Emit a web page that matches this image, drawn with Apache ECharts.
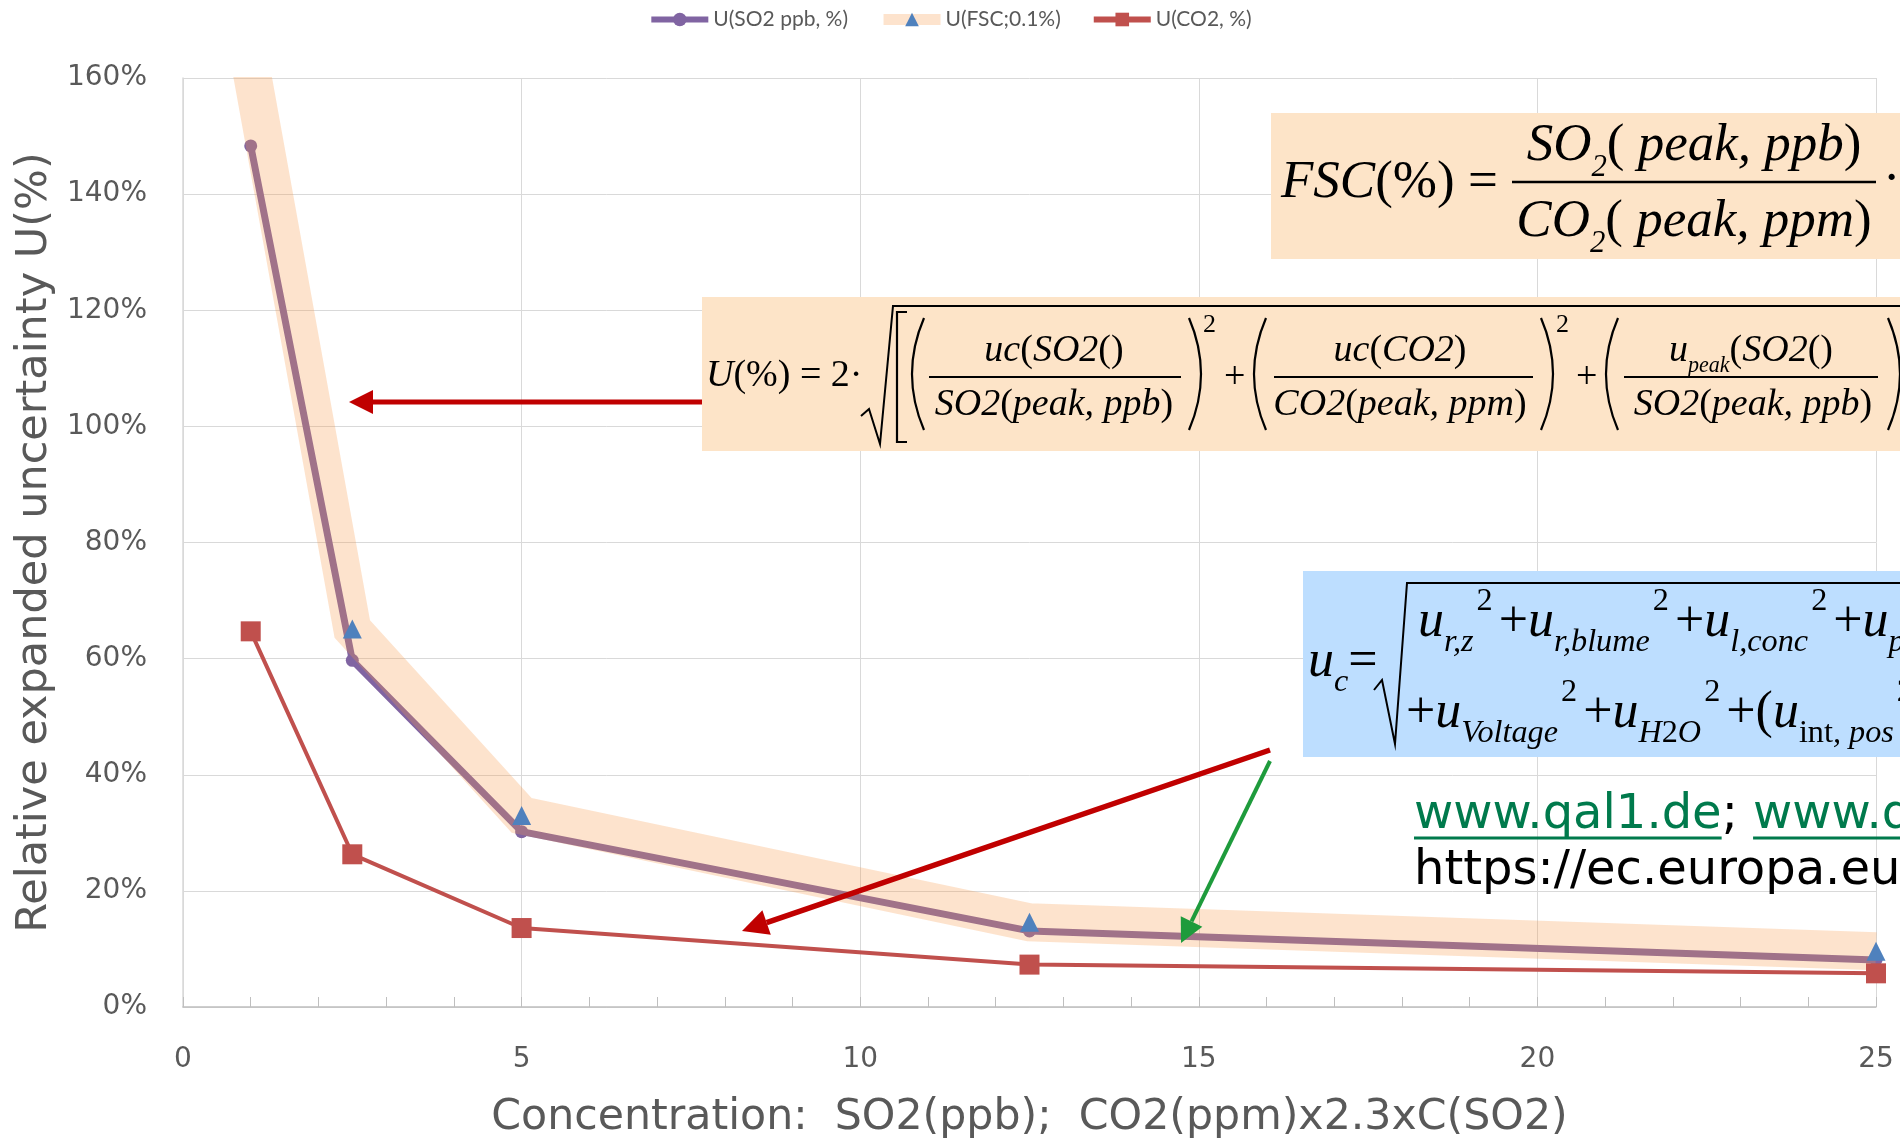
<!DOCTYPE html>
<html>
<head>
<meta charset="utf-8">
<script src="https://cdn.jsdelivr.net/npm/echarts@6/dist/echarts.min.js"></script>
<style>
  html, body { margin: 0; padding: 0; background: #fff; }
  #chart { width: 1900px; height: 1138px; }
</style>
</head>
<body>
<div id="chart"></div>
<script>
// values (percent)
const concentration = [1, 2.5, 5, 12.5, 25];
const uSO2 = [148.3, 59.7, 30.2, 13.1, 8.1];
const uFSC = [162, 65.1, 33.0, 14.6, 9.6];
const uCO2 = [64.7, 26.3, 13.6, 7.3, 5.8];
const seriesNames = ['U(SO2 ppb, %)', 'U(FSC;0.1%)', 'U(CO2, %)'];

const sans = '"DejaVu Sans", Verdana, sans-serif';
const serif = '"Liberation Serif", "Times New Roman", serif';
const peach = '#FDE4C8';
const skyBlue = '#BDDEFF';

function pairs(ys) {
  return concentration.map((x, i) => [x, ys[i]]);
}

function measure(text, font) {
  const ctx = document.createElement('canvas').getContext('2d');
  ctx.font = font;
  return ctx.measureText(text).width;
}

// formula text with italic / upright / sub / sup parts
function mtext(x, y, text, size, align, subScale, supPad) {
  const lh = size * 1.4;
  const s = size * (subScale || 0.58);
  return {
    type: 'text', z: 110, x: x, y: y,
    style: {
      text: text, align: align || 'left', verticalAlign: 'middle',
      fontFamily: serif, fontSize: size, fill: '#000',
      rich: {
        i: { fontFamily: serif, fontStyle: 'italic', fontSize: size, lineHeight: lh },
        r: { fontFamily: serif, fontSize: size, lineHeight: lh },
        sub: { fontFamily: serif, fontStyle: 'italic', fontSize: s, verticalAlign: 'bottom' },
        subr: { fontFamily: serif, fontSize: s, verticalAlign: 'bottom' },
        sup: { fontFamily: serif, fontSize: s, verticalAlign: 'top', padding: supPad || [0, 4, 0, 8] }
      }
    }
  };
}

function seg(x1, y1, x2, y2, w, color) {
  return { type: 'line', z: 110, shape: { x1, y1, x2, y2 }, style: { stroke: color || '#000', lineWidth: w || 2 } };
}

function poly(points, w) {
  return { type: 'polyline', z: 110, shape: { points }, style: { stroke: '#000', lineWidth: w || 2, fill: null } };
}

function paren(x, top, bottom, bulge) {
  return {
    type: 'bezierCurve', z: 110,
    shape: { x1: x, y1: top, x2: x, y2: bottom, cpx1: x + bulge, cpy1: (top + bottom) / 2 },
    style: { stroke: '#000', lineWidth: 2.2, fill: null }
  };
}

function arrow(x1, y1, x2, y2, color, w, head) {
  const a = Math.atan2(y2 - y1, x2 - x1);
  const bx = x2 - head * Math.cos(a), by = y2 - head * Math.sin(a);
  const nx = -Math.sin(a) * head * 0.5, ny = Math.cos(a) * head * 0.5;
  return [
    { type: 'line', z: 120, shape: { x1, y1, x2: bx, y2: by }, style: { stroke: color, lineWidth: w } },
    { type: 'polygon', z: 120, shape: { points: [[x2, y2], [bx + nx, by + ny], [bx - nx, by - ny]] }, style: { fill: color } }
  ];
}

const graphics = [];

// hide the part of the wide FSC band that the clip lets through above the plot
graphics.push({ type: 'rect', z: 50, shape: { x: 183, y: 38, width: 200, height: 39 }, style: { fill: '#fff' } });

// FSC box
graphics.push({ type: 'rect', z: 100, shape: { x: 1271, y: 113, width: 629, height: 146 }, style: { fill: peach } });
graphics.push(mtext(1281, 183, '{i|FSC}{r|(%) =}', 53));
graphics.push(mtext(1694, 146, '{i|SO}{sub|2}{r|( }{i|peak, ppb}{r|)}', 53, 'center'));
graphics.push(seg(1512, 182, 1876, 182, 2.5));
graphics.push(mtext(1694, 222, '{i|CO}{sub|2}{r|( }{i|peak, ppm}{r|)}', 53, 'center'));
graphics.push(mtext(1883, 180, '{r|·}', 52));

// U(%) box
graphics.push({ type: 'rect', z: 100, shape: { x: 702, y: 297, width: 1198, height: 154 }, style: { fill: peach } });
graphics.push(mtext(706, 376, '{i|U}{r|(%) = 2·}', 38));
graphics.push(poly([[861, 416], [869, 409], [880, 444], [893, 306], [1900, 306]], 2));
graphics.push(poly([[907, 312], [897, 312], [897, 442], [907, 442]], 2.2));
graphics.push(paren(924, 318, 430, -24));
graphics.push(mtext(1054, 351, '{i|uc}{r|(}{i|SO2}{r|()}', 38, 'center'));
graphics.push(seg(929, 377, 1181, 377, 2));
graphics.push(mtext(1054, 405, '{i|SO2}{r|(}{i|peak, ppb}{r|)}', 38, 'center'));
graphics.push(paren(1189, 318, 430, 24));
graphics.push(mtext(1203, 325, '{r|2}', 26));
graphics.push(mtext(1224, 378, '{r|+}', 38));
graphics.push(paren(1266, 318, 430, -24));
graphics.push(mtext(1400, 351, '{i|uc}{r|(}{i|CO2}{r|)}', 38, 'center'));
graphics.push(seg(1274, 377, 1533, 377, 2));
graphics.push(mtext(1400, 405, '{i|CO2}{r|(}{i|peak, ppm}{r|)}', 38, 'center'));
graphics.push(paren(1541, 318, 430, 24));
graphics.push(mtext(1556, 325, '{r|2}', 26));
graphics.push(mtext(1576, 378, '{r|+}', 38));
graphics.push(paren(1618, 318, 430, -24));
graphics.push(mtext(1751, 351, '{i|u}{sub|peak}{r|(}{i|SO2}{r|()}', 38, 'center'));
graphics.push(seg(1624, 377, 1878, 377, 2));
graphics.push(mtext(1753, 405, '{i|SO2}{r|(}{i|peak, ppb}{r|)}', 38, 'center'));
graphics.push(paren(1888, 318, 430, 24));

// u_c box
graphics.push({ type: 'rect', z: 100, shape: { x: 1303, y: 571, width: 597, height: 186 }, style: { fill: skyBlue } });
graphics.push(mtext(1308, 662, '{i|u}{sub|c}{r|=}', 52, 'left', 0.62));
graphics.push(poly([[1374, 690], [1382, 680], [1395, 744], [1407, 583], [1900, 583]], 2));
graphics.push(mtext(1418, 622, '{i|u}{sub|r,z}{sup|2}{r|+}{i|u}{sub|r,blume}{sup|2}{r|+}{i|u}{sub|l,conc}{sup|2}{r|+}{i|u}{sub|peak}', 52, 'left', 0.62, [0, 6, 0, 3]));
graphics.push(mtext(1406, 713, '{r|+}{i|u}{sub|Voltage}{sup|2}{r|+}{i|u}{sub|H}{subr|2}{sub|O}{sup|2}{r|+(}{i|u}{subr|int}{sub|, pos}{sup|2}', 52, 'left', 0.62, [0, 6, 0, 3]));

// links
const linkFont = '48px "DejaVu Sans"';
const green = '#007A4C';
const w1 = measure('www.qal1.de', linkFont);
const w2 = measure('; ', linkFont);
graphics.push({
  type: 'text', z: 110, x: 1414, y: 816,
  style: {
    text: '{g|www.qal1.de}{b|; }{g|www.qal2.de}', verticalAlign: 'middle',
    fontFamily: sans, fontSize: 48,
    rich: { g: { fill: green, fontFamily: sans, fontSize: 48 }, b: { fill: '#000', fontFamily: sans, fontSize: 48 } }
  }
});
graphics.push(seg(1414, 838, 1414 + w1, 838, 3, green));
graphics.push(seg(1414 + w1 + w2, 838, 1920, 838, 3, green));
graphics.push({
  type: 'text', z: 110, x: 1414, y: 872,
  style: { text: 'https://ec.europa.eu', verticalAlign: 'middle', fontFamily: sans, fontSize: 48, fill: '#000' }
});

// arrows
graphics.push(...arrow(702, 402, 349, 402, '#C00000', 5, 24));
graphics.push(...arrow(1270, 750, 742, 931, '#C00000', 5.5, 26));
graphics.push(...arrow(1270, 761, 1181, 943, '#1E9B3C', 4, 24));

const chart = echarts.init(document.getElementById('chart'));

const option = {
  animation: false,
  backgroundColor: '#fff',
  legend: {
    top: 4,
    left: 'center',
    itemWidth: 57,
    itemHeight: 17,
    itemGap: 30,
    textStyle: { color: '#595959', fontFamily: 'Lato, sans-serif', fontSize: 21 },
    data: [
      { name: seriesNames[0], lineStyle: { width: 6 } },
      { name: seriesNames[1], lineStyle: { width: 11 } },
      { name: seriesNames[2], lineStyle: { width: 6 } }
    ]
  },
  grid: { left: 183, right: 24, top: 78, bottom: 131, outerBoundsMode: 'none' },
  xAxis: {
    type: 'value',
    min: 0, max: 25, interval: 5,
    name: 'Concentration:  SO2(ppb);  CO2(ppm)x2.3xC(SO2)',
    nameLocation: 'middle',
    nameGap: 89,
    nameTextStyle: { color: '#595959', fontFamily: sans, fontSize: 42.7 },
    axisLine: { lineStyle: { color: '#bfbfbf', width: 1.5 } },
    axisTick: { show: true, inside: true, length: 10, lineStyle: { color: '#bfbfbf' } },
    minorTick: { show: true, splitNumber: 5, length: 10, lineStyle: { color: '#bfbfbf' } },
    axisLabel: { color: '#595959', fontFamily: sans, fontSize: 28, margin: 39 },
    splitLine: { show: true, lineStyle: { color: '#d9d9d9', width: 1 } }
  },
  yAxis: {
    type: 'value',
    min: 0, max: 160, interval: 20,
    name: 'Relative expanded uncertainty U(%)',
    nameLocation: 'middle',
    nameGap: 126,
    nameTextStyle: { color: '#595959', fontFamily: sans, fontSize: 43 },
    axisLine: { show: true, lineStyle: { color: '#d9d9d9', width: 1.5 } },
    axisTick: { show: false },
    axisLabel: { color: '#595959', fontFamily: sans, fontSize: 28, margin: 36, formatter: '{value}%' },
    splitLine: { lineStyle: { color: '#d9d9d9', width: 1 } }
  },
  series: [
    {
      name: seriesNames[0],
      type: 'line',
      z: 2,
      data: pairs(uSO2),
      symbol: 'circle',
      symbolSize: 13,
      itemStyle: { color: '#8064A2' },
      lineStyle: { color: '#8064A2', width: 7 }
    },
    {
      name: seriesNames[1],
      type: 'line',
      z: 3,
      data: pairs(uFSC),
      symbol: 'triangle',
      symbolSize: 19,
      itemStyle: { color: '#4F81BD' },
      lineStyle: { color: '#F79646', opacity: 0.27, width: 38, join: 'miter', cap: 'butt' }
    },
    {
      name: seriesNames[2],
      type: 'line',
      z: 4,
      data: pairs(uCO2),
      symbol: 'rect',
      symbolSize: 20,
      itemStyle: { color: '#C0504D' },
      lineStyle: { color: '#C0504D', width: 4 }
    }
  ],
  graphic: graphics
};

chart.setOption(option);
</script>
</body>
</html>
